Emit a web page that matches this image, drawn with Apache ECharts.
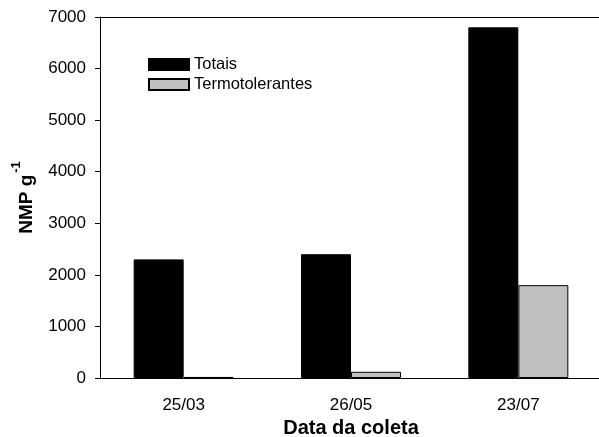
<!DOCTYPE html>
<html>
<head>
<meta charset="utf-8">
<script src="https://cdn.jsdelivr.net/npm/echarts@6/dist/echarts.min.js"></script>
<style>
  html, body { margin: 0; padding: 0; background: #fff; }
  #chart { width: 599px; height: 437px; }
</style>
</head>
<body>
<div id="chart"></div>
<script>
// data
const categories = ["25/03", "26/05", "23/07"];
const totais = [2300, 2400, 6800];
const termotolerantes = [20, 120, 1800];

const font = "'Liberation Sans', Arial, sans-serif";

const chart = echarts.init(document.getElementById("chart"));

const option = {
  animation: false,
  textStyle: { fontFamily: font, color: "#000" },
  grid: {
    left: 100,
    right: -3,
    top: 17,
    bottom: 59,
    outerBoundsMode: "none",
  },
  legend: {
    orient: "vertical",
    left: 143,
    top: 51,
    icon: "rect",
    itemWidth: 40,
    itemHeight: 11,
    itemGap: 3,
    textStyle: { fontFamily: font, fontSize: 16.5, color: "#000" },
    data: ["Totais", "Termotolerantes"],
  },
  xAxis: [
    {
      type: "category",
      data: categories,
      name: "Data da coleta",
      nameLocation: "middle",
      nameGap: 38,
      nameTextStyle: { fontFamily: font, fontSize: 20, fontWeight: "bold", color: "#000" },
      axisLine: { lineStyle: { color: "#000", width: 1 } },
      axisTick: { alignWithLabel: true, length: 5, lineStyle: { color: "#000" } },
      axisLabel: { fontFamily: font, fontSize: 17, color: "#000", margin: 19 },
    },
    {
      // top frame line only
      type: "category",
      data: categories,
      position: "top",
      axisLine: { show: true, lineStyle: { color: "#000", width: 1 } },
      axisTick: { show: false },
      axisLabel: { show: false },
    },
  ],
  yAxis: {
    type: "value",
    min: 0,
    max: 7000,
    interval: 1000,
    name: "{a|NMP g}{b|-1}",
    nameLocation: "middle",
    nameGap: 64,
    nameTextStyle: {
      rich: {
        a: { fontFamily: font, fontSize: 19, fontWeight: "bold", color: "#000", lineHeight: 26, verticalAlign: "bottom" },
        b: { fontFamily: font, fontSize: 13, fontWeight: "bold", color: "#000", lineHeight: 26, verticalAlign: "top", padding: [0, 0, 10, 2] },
      },
    },
    axisLine: { show: true, lineStyle: { color: "#000", width: 1 } },
    axisTick: { show: true, length: 5, lineStyle: { color: "#000" } },
    axisLabel: { fontFamily: font, fontSize: 17, color: "#000", margin: 14, formatter: (v) => String(v) },
    splitLine: { show: false },
  },
  series: [
    {
      name: "Totais",
      type: "bar",
      data: totais,
      barWidth: 50,
      barGap: "0%",
      itemStyle: { color: "#000", borderColor: "#000", borderWidth: 1 },
    },
    {
      name: "Termotolerantes",
      type: "bar",
      data: termotolerantes,
      barWidth: 50,
      itemStyle: { color: "#c0c0c0", borderColor: "#000", borderWidth: 1 },
    },
  ],
};

chart.setOption(option);
</script>
</body>
</html>
